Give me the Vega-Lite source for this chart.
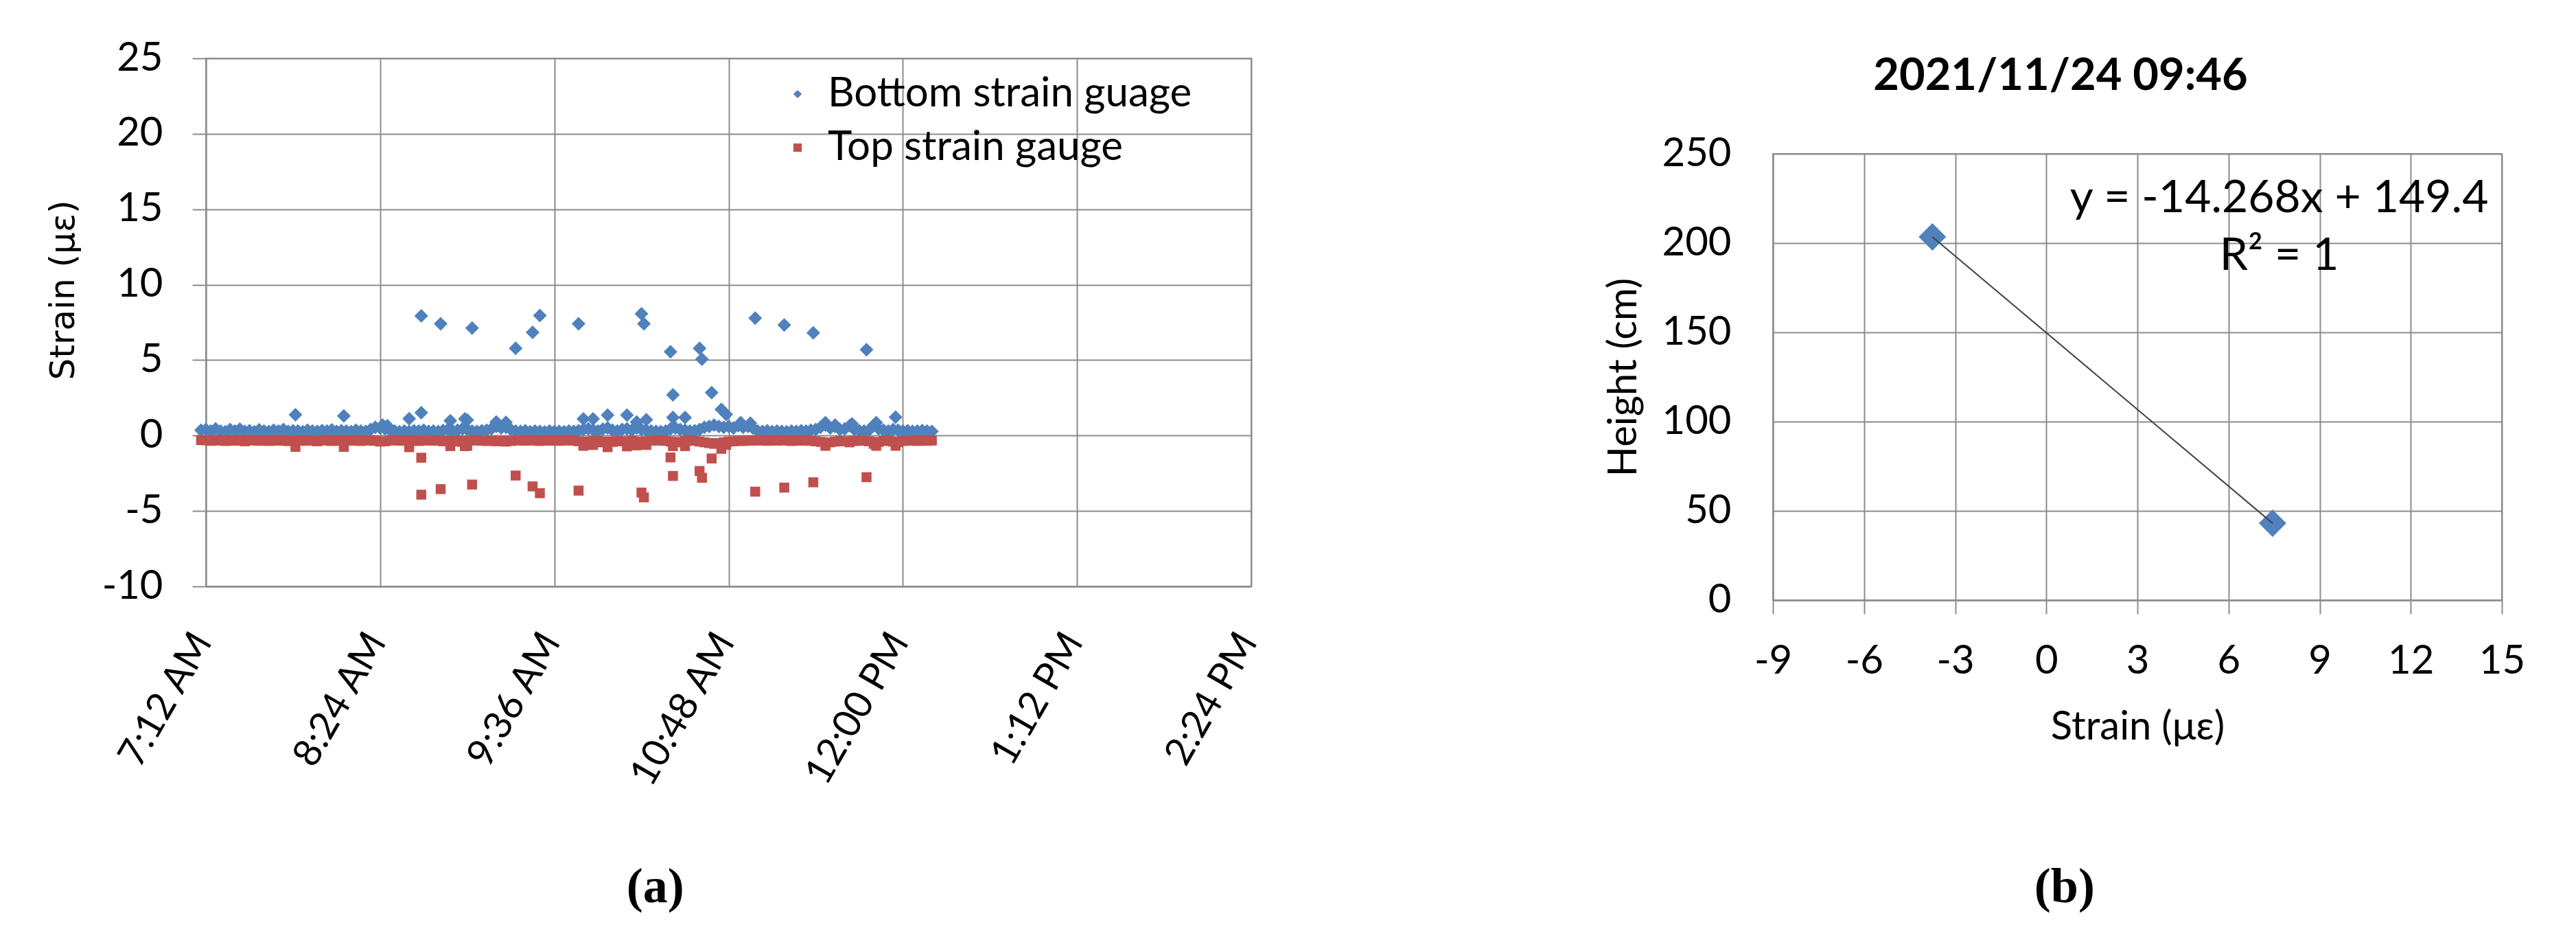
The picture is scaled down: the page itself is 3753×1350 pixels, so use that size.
{
  "$schema": "https://vega.github.io/schema/vega-lite/v6.json",
  "background": "white",
  "padding": {"left": 66, "top": 55, "right": 5, "bottom": 5},
  "spacing": 492,
  "config": {
    "font": "Lato",
    "view": {"stroke": "#8c8c8c", "strokeWidth": 2},
    "axis": {
      "grid": true, "gridColor": "#8c8c8c", "gridWidth": 2, "gridOpacity": 1,
      "domainColor": "#8c8c8c", "domainWidth": 2,
      "tickColor": "#8c8c8c", "tickWidth": 2,
      "labelFont": "Lato", "labelFontSize": 58, "labelColor": "#000000", "labelLimit": 1000,
      "titleFont": "Lato", "titleFontSize": 58, "titleFontWeight": "normal", "titleColor": "#000000",
      "labelFlush": false, "labelOverlap": false
    },
    "title": {"color": "#000000"}
  },
  "datasets": {
    "strain": [
      {"t":"07:10","b":0.35,"p":-0.30},{"t":"07:12","b":0.40,"p":-0.32},{"t":"07:14","b":0.30,"p":-0.35},{"t":"07:16","b":0.45,"p":-0.30},
      {"t":"07:18","b":0.30,"p":-0.33},{"t":"07:20","b":0.25,"p":-0.36},{"t":"07:22","b":0.40,"p":-0.31},{"t":"07:24","b":0.30,"p":-0.34},
      {"t":"07:26","b":0.42,"p":-0.30},{"t":"07:28","b":0.28,"p":-0.38},{"t":"07:30","b":0.32,"p":-0.33},{"t":"07:32","b":0.25,"p":-0.30},
      {"t":"07:34","b":0.38,"p":-0.35},{"t":"07:36","b":0.30,"p":-0.32},{"t":"07:38","b":0.26,"p":-0.36},{"t":"07:40","b":0.35,"p":-0.31},
      {"t":"07:42","b":0.30,"p":-0.34},{"t":"07:44","b":0.40,"p":-0.30},{"t":"07:46","b":0.28,"p":-0.37},{"t":"07:48","b":0.32,"p":-0.33},
      {"t":"07:50","b":0.30,"p":-0.31},{"t":"07:52","b":0.25,"p":-0.35},{"t":"07:54","b":0.36,"p":-0.32},{"t":"07:56","b":0.30,"p":-0.34},
      {"t":"07:58","b":0.27,"p":-0.38},{"t":"08:00","b":0.33,"p":-0.33},{"t":"08:02","b":0.30,"p":-0.30},{"t":"08:04","b":0.38,"p":-0.36},
      {"t":"08:06","b":0.28,"p":-0.32},{"t":"08:08","b":0.32,"p":-0.35},{"t":"08:10","b":0.30,"p":-0.31},{"t":"08:12","b":0.26,"p":-0.34},
      {"t":"08:14","b":0.35,"p":-0.30},{"t":"08:16","b":0.30,"p":-0.36},{"t":"08:18","b":0.28,"p":-0.33},{"t":"08:20","b":0.40,"p":-0.31},
      {"t":"08:22","b":0.55,"p":-0.35},{"t":"08:24","b":0.50,"p":-0.40},{"t":"08:26","b":0.45,"p":-0.38},{"t":"08:28","b":0.35,"p":-0.33},
      {"t":"08:30","b":0.30,"p":-0.30},{"t":"08:32","b":0.25,"p":-0.34},{"t":"08:34","b":0.30,"p":-0.32},{"t":"08:36","b":0.28,"p":-0.35},
      {"t":"08:38","b":0.32,"p":-0.31},{"t":"08:40","b":0.30,"p":-0.36},{"t":"08:42","b":0.35,"p":-0.33},{"t":"08:44","b":0.28,"p":-0.30},
      {"t":"08:46","b":0.30,"p":-0.34},{"t":"08:48","b":0.26,"p":-0.32},{"t":"08:50","b":0.33,"p":-0.38},{"t":"08:52","b":0.40,"p":-0.35},
      {"t":"08:54","b":0.30,"p":-0.40},{"t":"08:56","b":0.35,"p":-0.33},{"t":"08:58","b":0.45,"p":-0.42},{"t":"09:00","b":0.40,"p":-0.36},
      {"t":"09:02","b":0.30,"p":-0.33},{"t":"09:04","b":0.28,"p":-0.31},{"t":"09:06","b":0.32,"p":-0.34},{"t":"09:08","b":0.35,"p":-0.36},
      {"t":"09:10","b":0.45,"p":-0.33},{"t":"09:12","b":0.60,"p":-0.38},{"t":"09:14","b":0.50,"p":-0.35},{"t":"09:16","b":0.55,"p":-0.40},
      {"t":"09:18","b":0.40,"p":-0.36},{"t":"09:20","b":0.30,"p":-0.33},{"t":"09:22","b":0.28,"p":-0.31},{"t":"09:24","b":0.32,"p":-0.34},
      {"t":"09:26","b":0.25,"p":-0.30},{"t":"09:28","b":0.30,"p":-0.33},{"t":"09:30","b":0.28,"p":-0.36},{"t":"09:32","b":0.24,"p":-0.32},
      {"t":"09:34","b":0.30,"p":-0.34},{"t":"09:36","b":0.26,"p":-0.31},{"t":"09:38","b":0.28,"p":-0.35},{"t":"09:40","b":0.25,"p":-0.33},
      {"t":"09:42","b":0.30,"p":-0.30},{"t":"09:44","b":0.27,"p":-0.34},{"t":"09:46","b":0.32,"p":-0.38},{"t":"09:48","b":0.40,"p":-0.42},
      {"t":"09:50","b":0.45,"p":-0.40},{"t":"09:52","b":0.38,"p":-0.36},{"t":"09:54","b":0.30,"p":-0.34},{"t":"09:56","b":0.42,"p":-0.45},
      {"t":"09:58","b":0.50,"p":-0.40},{"t":"10:00","b":0.35,"p":-0.42},{"t":"10:02","b":0.30,"p":-0.36},{"t":"10:04","b":0.40,"p":-0.38},
      {"t":"10:06","b":0.45,"p":-0.44},{"t":"10:08","b":0.35,"p":-0.35},{"t":"10:10","b":0.50,"p":-0.40},{"t":"10:12","b":0.40,"p":-0.42},
      {"t":"10:14","b":0.35,"p":-0.38},{"t":"10:16","b":0.30,"p":-0.34},{"t":"10:18","b":0.28,"p":-0.33},{"t":"10:20","b":0.26,"p":-0.31},
      {"t":"10:22","b":0.30,"p":-0.35},{"t":"10:24","b":0.45,"p":-0.40},{"t":"10:26","b":0.50,"p":-0.45},{"t":"10:28","b":0.40,"p":-0.42},
      {"t":"10:30","b":0.35,"p":-0.36},{"t":"10:32","b":0.30,"p":-0.33},{"t":"10:34","b":0.32,"p":-0.35},{"t":"10:36","b":0.40,"p":-0.40},
      {"t":"10:38","b":0.55,"p":-0.45},{"t":"10:40","b":0.60,"p":-0.50},{"t":"10:42","b":0.70,"p":-0.55},{"t":"10:44","b":0.60,"p":-0.50},
      {"t":"10:46","b":0.55,"p":-0.45},{"t":"10:48","b":0.60,"p":-0.40},{"t":"10:50","b":0.50,"p":-0.38},{"t":"10:52","b":0.65,"p":-0.35},
      {"t":"10:54","b":0.55,"p":-0.36},{"t":"10:56","b":0.60,"p":-0.33},{"t":"10:58","b":0.50,"p":-0.34},{"t":"11:00","b":0.30,"p":-0.31},
      {"t":"11:02","b":0.28,"p":-0.33},{"t":"11:04","b":0.32,"p":-0.35},{"t":"11:06","b":0.26,"p":-0.32},{"t":"11:08","b":0.30,"p":-0.34},
      {"t":"11:10","b":0.28,"p":-0.30},{"t":"11:12","b":0.25,"p":-0.33},{"t":"11:14","b":0.30,"p":-0.36},{"t":"11:16","b":0.27,"p":-0.32},
      {"t":"11:18","b":0.32,"p":-0.34},{"t":"11:20","b":0.30,"p":-0.31},{"t":"11:22","b":0.35,"p":-0.35},{"t":"11:24","b":0.40,"p":-0.38},
      {"t":"11:26","b":0.55,"p":-0.42},{"t":"11:28","b":0.70,"p":-0.55},{"t":"11:30","b":0.50,"p":-0.45},{"t":"11:32","b":0.60,"p":-0.40},
      {"t":"11:34","b":0.40,"p":-0.36},{"t":"11:36","b":0.45,"p":-0.38},{"t":"11:38","b":0.65,"p":-0.45},{"t":"11:40","b":0.40,"p":-0.36},
      {"t":"11:42","b":0.32,"p":-0.33},{"t":"11:44","b":0.30,"p":-0.35},{"t":"11:46","b":0.35,"p":-0.38},{"t":"11:48","b":0.70,"p":-0.55},
      {"t":"11:50","b":0.45,"p":-0.42},{"t":"11:52","b":0.35,"p":-0.36},{"t":"11:54","b":0.30,"p":-0.33},{"t":"11:56","b":0.40,"p":-0.40},
      {"t":"11:58","b":0.35,"p":-0.45},{"t":"12:00","b":0.30,"p":-0.36},{"t":"12:02","b":0.32,"p":-0.34},{"t":"12:04","b":0.28,"p":-0.33},
      {"t":"12:06","b":0.30,"p":-0.36},{"t":"12:08","b":0.33,"p":-0.32},{"t":"12:10","b":0.30,"p":-0.35},{"t":"12:12","b":0.28,"p":-0.33},
      {"t":"07:49","b":1.38,"p":-0.75},{"t":"08:09","b":1.30,"p":-0.75},{"t":"08:25","b":0.70},{"t":"08:27","b":0.65},
      {"t":"08:36","b":1.12,"p":-0.77},{"t":"08:41","b":7.93,"p":-3.92},{"t":"08:41","b":1.52,"p":-1.47},{"t":"08:49","b":7.41,"p":-3.55},
      {"t":"08:53","b":0.98,"p":-0.70},{"t":"08:59","b":1.10,"p":-0.70},{"t":"09:00","b":1.02,"p":-0.68},{"t":"09:02","b":7.13,"p":-3.25},
      {"t":"09:12","b":0.90},{"t":"09:16","b":0.88},{"t":"09:20","b":5.78,"p":-2.65},{"t":"09:27","b":6.84,"p":-3.37},
      {"t":"09:30","b":7.96,"p":-3.82},{"t":"09:46","b":7.41,"p":-3.65},{"t":"09:48","b":1.10,"p":-0.68},{"t":"09:52","b":1.10,"p":-0.62},
      {"t":"09:58","b":1.36,"p":-0.77},{"t":"10:06","b":1.36,"p":-0.72},{"t":"10:10","b":0.90,"p":-0.65},{"t":"10:12","b":8.07,"p":-3.78},
      {"t":"10:13","b":7.41,"p":-4.10},{"t":"10:14","b":1.05,"p":-0.62},{"t":"10:24","b":5.55,"p":-1.45},{"t":"10:25","b":2.70,"p":-2.68},
      {"t":"10:25","b":1.20,"p":-0.70},{"t":"10:30","b":1.20,"p":-0.70},{"t":"10:36","b":5.78,"p":-2.35},{"t":"10:37","b":5.06,"p":-2.80},
      {"t":"10:41","b":2.85,"p":-1.52},{"t":"10:45","b":1.73,"p":-0.88},{"t":"10:47","b":1.40,"p":-0.62},{"t":"10:53","b":0.85},
      {"t":"10:57","b":0.82},{"t":"10:59","b":7.79,"p":-3.72},{"t":"11:11","b":7.33,"p":-3.45},{"t":"11:23","b":6.81,"p":-3.10},
      {"t":"11:28","b":0.85,"p":-0.68},{"t":"11:32","b":0.70},{"t":"11:39","b":0.78},{"t":"11:45","b":5.69,"p":-2.76},
      {"t":"11:49","b":0.85,"p":-0.68},{"t":"11:57","b":1.22,"p":-0.68}
    ],
    "profile": [
      {"strain": -3.75, "height": 203.5},
      {"strain": 7.45, "height": 43.1}
    ],
    "fit": [
      {"label": "y = -14.268x + 149.4"}
    ],
    "r2": [
      {"label": "R² = 1"}
    ]
  },
  "hconcat": [
    {
      "width": 1523,
      "height": 769,
      "title": {"text": "(a)", "orient": "bottom", "anchor": "middle", "frame": "bounds", "font": "Liberation Serif", "fontSize": 72, "fontWeight": "bold", "offset": 102},
      "data": {"name": "strain", "format": {"parse": {"t": "date:'%H:%M'"}}},
      "encoding": {
        "x": {
          "field": "t", "type": "temporal",
          "scale": {"domain": [
            {"year": 1900, "month": 1, "date": 1, "hours": 7, "minutes": 12},
            {"year": 1900, "month": 1, "date": 1, "hours": 14, "minutes": 24}
          ]},
          "axis": {
            "title": null, "format": "%-I:%M %p", "ticks": false,
            "labelAngle": -60, "labelAlign": "right", "labelBaseline": "middle", "labelOffset": -5, "labelPadding": 72,
            "labelFontSize": 56,
            "values": [
              {"year": 1900, "month": 1, "date": 1, "hours": 7, "minutes": 12},
              {"year": 1900, "month": 1, "date": 1, "hours": 8, "minutes": 24},
              {"year": 1900, "month": 1, "date": 1, "hours": 9, "minutes": 36},
              {"year": 1900, "month": 1, "date": 1, "hours": 10, "minutes": 48},
              {"year": 1900, "month": 1, "date": 1, "hours": 12, "minutes": 0},
              {"year": 1900, "month": 1, "date": 1, "hours": 13, "minutes": 12},
              {"year": 1900, "month": 1, "date": 1, "hours": 14, "minutes": 24}
            ]
          }
        }
      },
      "layer": [
        {
          "transform": [{"filter": "isValid(datum.b)"}],
          "mark": {"type": "point", "filled": true, "opacity": 1, "size": 400, "strokeWidth": 0},
          "encoding": {
            "y": {
              "field": "b", "type": "quantitative",
              "scale": {"domain": [-10, 25], "nice": false, "zero": false},
              "axis": {"title": "Strain (με)", "titleFont": "DejaVu Sans", "titleFontSize": 50, "titleY": 337,
                       "values": [-10, -5, 0, 5, 10, 15, 20, 25], "tickSize": 20, "labelPadding": 43, "titlePadding": 31,
                       "labelExpr": "'' + datum.value"}
            },
            "color": {"datum": "Bottom strain guage", "type": "nominal",
              "scale": {"domain": ["Bottom strain guage", "Top strain gauge"], "range": ["#4F81BD", "#C0504D"]},
              "legend": {"title": null, "orient": "none", "legendX": 832, "legendY": 22, "symbolSize": 150, "labelFontSize": 60, "labelFont": "Lato", "labelColor": "#000000", "labelOffset": 14, "labelLimit": 1000, "rowPadding": 18, "symbolStrokeWidth": 0}},
            "shape": {"datum": "Bottom strain guage", "type": "nominal",
              "scale": {"domain": ["Bottom strain guage", "Top strain gauge"], "range": ["diamond", "square"]}}
          }
        },
        {
          "transform": [{"filter": "isValid(datum.p)"}],
          "mark": {"type": "point", "filled": true, "opacity": 1, "size": 210, "strokeWidth": 0},
          "encoding": {
            "y": {
              "field": "p", "type": "quantitative",
              "scale": {"domain": [-10, 25], "nice": false, "zero": false},
              "axis": {"title": "Strain (με)", "titleFont": "DejaVu Sans", "titleFontSize": 50, "titleY": 337,
                       "values": [-10, -5, 0, 5, 10, 15, 20, 25], "tickSize": 20, "labelPadding": 43, "titlePadding": 31,
                       "labelExpr": "'' + datum.value"}
            },
            "color": {"datum": "Top strain gauge", "type": "nominal",
              "scale": {"domain": ["Bottom strain guage", "Top strain gauge"], "range": ["#4F81BD", "#C0504D"]},
              "legend": {"title": null, "orient": "none", "legendX": 832, "legendY": 22, "symbolSize": 150, "labelFontSize": 60, "labelFont": "Lato", "labelColor": "#000000", "labelOffset": 14, "labelLimit": 1000, "rowPadding": 18, "symbolStrokeWidth": 0}},
            "shape": {"datum": "Top strain gauge", "type": "nominal",
              "scale": {"domain": ["Bottom strain guage", "Top strain gauge"], "range": ["diamond", "square"]}}
          }
        }
      ]
    },
    {
      "title": {"text": "(b)", "orient": "bottom", "anchor": "middle", "frame": "bounds", "font": "Liberation Serif", "fontSize": 72, "fontWeight": "bold", "offset": 168},
      "spacing": 50,
      "vconcat": [
        {
          "width": 1062,
          "height": 1,
          "view": {"stroke": null},
          "title": {"text": "2021/11/24 09:46", "orient": "bottom", "anchor": "middle", "frame": "group", "dx": -112, "font": "Lato", "fontSize": 65, "fontWeight": "bold", "offset": -6},
          "data": {"values": []},
          "mark": {"type": "text"},
          "encoding": {}
        },
        {
          "width": 1062,
          "height": 650,
          "layer": [
            {
              "data": {"name": "profile"},
              "mark": {"type": "point", "shape": "diamond", "filled": true, "size": 1600, "color": "#4F81BD", "opacity": 1, "strokeWidth": 0},
              "encoding": {
                "x": {
                  "field": "strain", "type": "quantitative",
                  "scale": {"domain": [-9, 15], "nice": false, "zero": false},
                  "axis": {"title": "Strain (με)", "values": [-9, -6, -3, 0, 3, 6, 9, 12, 15], "tickSize": 20, "labelPadding": 40, "titlePadding": 38,
                           "labelExpr": "'' + datum.value"}
                },
                "y": {
                  "field": "height", "type": "quantitative",
                  "scale": {"domain": [0, 250], "nice": false},
                  "axis": {"title": "Height (cm)", "values": [0, 50, 100, 150, 200, 250], "ticks": false, "labelPadding": 61, "titlePadding": 26}
                }
              }
            },
            {
              "data": {"name": "profile"},
              "mark": {"type": "line", "color": "#404040", "strokeWidth": 2},
              "encoding": {
                "x": {"field": "strain", "type": "quantitative"},
                "y": {"field": "height", "type": "quantitative"}
              }
            },
            {
              "data": {"name": "fit"},
              "mark": {"type": "text", "font": "Lato", "fontSize": 66, "color": "#000000", "align": "center", "baseline": "middle", "invalid": null},
              "encoding": {
                "x": {"datum": 7.67, "type": "quantitative"},
                "y": {"datum": 225, "type": "quantitative"},
                "text": {"field": "label", "type": "nominal"}
              }
            },
            {
              "data": {"name": "r2"},
              "mark": {"type": "text", "font": "Lato", "fontSize": 66, "color": "#000000", "align": "center", "baseline": "middle", "invalid": null},
              "encoding": {
                "x": {"datum": 7.67, "type": "quantitative"},
                "y": {"datum": 192.7, "type": "quantitative"},
                "text": {"field": "label", "type": "nominal"}
              }
            }
          ]
        }
      ]
    }
  ]
}
